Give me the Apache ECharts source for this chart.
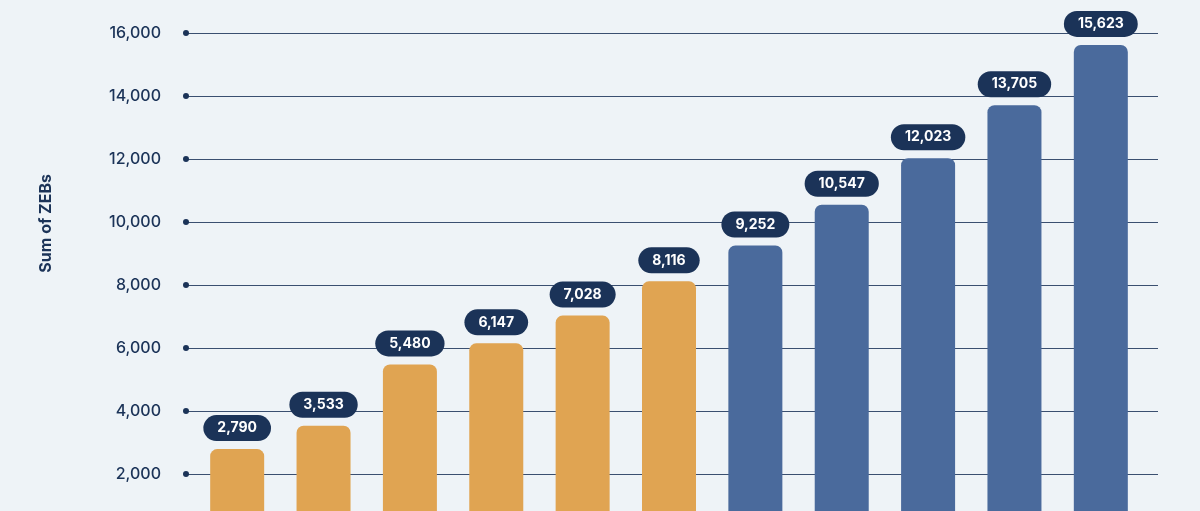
<!DOCTYPE html>
<html><head><meta charset="utf-8">
<script src="https://cdn.jsdelivr.net/npm/echarts@6/dist/echarts.min.js"></script>
<style>html,body{margin:0;padding:0;background:#eef3f7}#c{width:1200px;height:511px}</style>
</head><body><div id="c"></div>
<script>
const categories = ['1','2','3','4','5','6','7','8','9','10','11'];
const values = [2790,3533,5480,6147,7028,8116,9252,10547,12023,13705,15623];
const barColors = ['#e0a452','#e0a452','#e0a452','#e0a452','#e0a452','#e0a452','#4a6a9c','#4a6a9c','#4a6a9c','#4a6a9c','#4a6a9c'];
const yTitle = 'Sum of ZEBs';
const navy = '#1b3358';
const chart = echarts.init(document.getElementById('c'));
chart.setOption({
  backgroundColor:'#eef3f7',
  animation:false,
  grid:[{left:186,right:42,top:33,height:504,outerBoundsMode:'none',containLabel:false},
        {left:194,right:56,top:33,height:504,outerBoundsMode:'none',containLabel:false}],
  graphic:[{type:'text',left:38,top:174,rotation:Math.PI/2,style:{text:yTitle,fill:navy,font:'bold 16px Inter',textAlign:'center',textVerticalAlign:'middle'}}],
  xAxis:[{gridIndex:0,type:'value',show:false,min:0,max:1},
         {gridIndex:1,type:'category',data:categories,show:false}],
  yAxis:[{gridIndex:0,type:'value',min:0,max:16000,interval:2000,
    axisLine:{show:false},axisTick:{show:false},
    splitLine:{lineStyle:{color:'#3a4f70',width:1}},
    axisLabel:{margin:-3,formatter:v=>'{a|'+v.toLocaleString('en-US')+'}{d|}',
      rich:{a:{color:navy,fontSize:16,fontFamily:'Inter',fontWeight:500,padding:[0,22,0,0]},
            d:{width:6,height:6,borderRadius:3,backgroundColor:navy}}}},
    {gridIndex:1,type:'value',min:0,max:16000,show:false}],
  series:[{type:'bar',xAxisIndex:1,yAxisIndex:1,barWidth:54,
    data:values.map((v,i)=>({value:v,itemStyle:{color:barColors[i],borderRadius:[7,7,0,0]}})),
    label:{show:true,position:'top',distance:8,formatter:p=>p.value.toLocaleString('en-US'),
      color:'#fff',fontWeight:'bold',fontSize:14,fontFamily:'Inter',backgroundColor:navy,
      padding:[6,14],borderRadius:13}}]
});
</script></body></html>
